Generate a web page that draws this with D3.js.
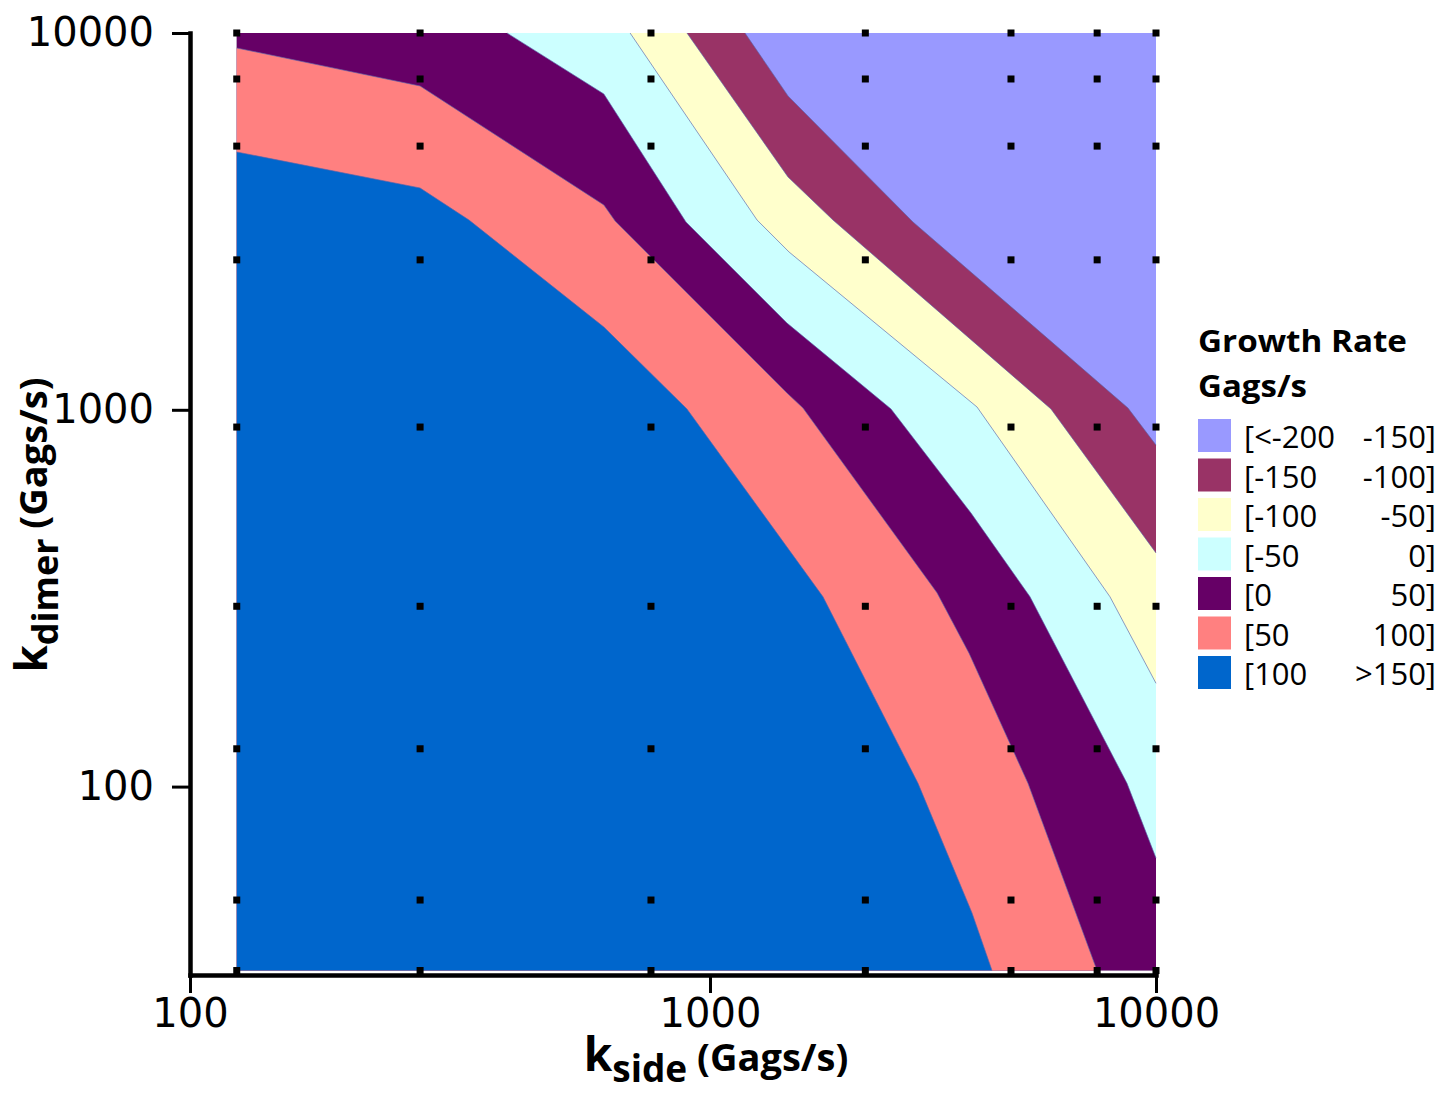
<!DOCTYPE html>
<html>
<head>
<meta charset="utf-8">
<script src="https://cdn.jsdelivr.net/npm/d3@7"></script>
<style>
  body { margin: 0; background: #fff; }
</style>
</head>
<body>
<div id="app"></div>
<script>
// sample grid (black markers)
const kSideGrid = [123, 277, 770, 2230, 4730, 7380, 10000];
const kDimerGrid = [10000, 7550, 5010, 2500, 900, 301, 126, 50, 32.5];

// legend
const bandColors = ["#9999FF", "#993366", "#FFFFCC", "#CCFFFF", "#660066", "#FF8080", "#0066CC"];
const bandLow = ["[<-200", "[-150", "[-100", "[-50", "[0", "[50", "[100"];
const bandHigh = ["-150]", "-100]", "-50]", "0]", "50]", "100]", ">150]"];

// contour lines [kside, kdimer], running from top/left edge to right/bottom edge
const contourM150 = [[1198, 10000], [1496, 6807], [2852, 3151], [8654, 1011], [10000, 806]];
const contourM100 = [[903, 10000], [1496, 4148], [1887, 3189], [5815, 1005], [10000, 417]];
const contourM50 = [[702, 10000], [1275, 3189], [1504, 2623], [3970, 1017], [7885, 319], [10000, 188]];
const contour0 = [[407, 10000], [625, 6890], [899, 3151], [1488, 1699], [2546, 1005], [3848, 532], [5218, 319], [8610, 102], [10000, 64.6]];
const contour50 = [[123, 9124], [277, 7234], [625, 3496], [657, 3170], [1488, 1108], [1616, 1011], [3228, 327], [3809, 226], [5164, 102], [7376, 32.5]];
const contour100 = [[123, 4833], [277, 3879], [344, 3189], [625, 1658], [903, 1005], [1792, 319], [2927, 102], [3868, 46.2], [4289, 32.5]];

const contours = [contourM150, contourM100, contourM50, contour0, contour50, contour100];

const xTicks = [100, 1000, 10000];
const yTicks = [100, 1000, 10000];

const chart = () => {
  const width = 1450;
  const height = 1093;

  const xMin = d3.min(kSideGrid), xMax = d3.max(kSideGrid);
  const yMin = d3.min(kDimerGrid), yMax = d3.max(kDimerGrid);

  const x = d3.scaleLog().domain([100, 1000, 10000]).range([190, 710, 1156]);
  const y = d3.scaleLog().domain([Math.pow(10, 1.5), 10000]).range([975, 33]);

  const svg = d3.create("svg").attr("width", width).attr("height", height);

  const line = d3.line().x((d) => x(d[0])).y((d) => y(d[1]));

  // area below/left of a contour, closed along the plot edges
  const regionBelow = (c) => {
    const pts = c.slice();
    const first = pts[0], last = pts[pts.length - 1];
    if (last[0] >= xMax && last[1] > yMin) pts.push([xMax, yMin]);
    pts.push([xMin, yMin]);
    if (first[1] >= yMax && first[0] > xMin) pts.push([xMin, yMax]);
    return pts;
  };

  svg.append("rect")
    .attr("x", x(xMin))
    .attr("y", y(yMax))
    .attr("width", x(xMax) - x(xMin))
    .attr("height", y(yMin) - y(yMax))
    .attr("fill", bandColors[0]);

  svg.append("g")
    .selectAll("path")
    .data(contours)
    .join("path")
    .attr("d", (c) => line(regionBelow(c)) + "Z")
    .attr("fill", (c, i) => bandColors[i + 1]);

  svg.append("g")
    .selectAll("path")
    .data(contours)
    .join("path")
    .attr("d", (c) => line(c))
    .attr("fill", "none")
    .attr("stroke", "#5a64aa")
    .attr("stroke-opacity", 0.65)
    .attr("stroke-width", 1);

  // markers
  const grid = kSideGrid.flatMap((a) => kDimerGrid.map((b) => [a, b]));
  svg.append("g")
    .selectAll("rect")
    .data(grid)
    .join("rect")
    .attr("x", (d) => x(d[0]) - 3.5)
    .attr("y", (d) => y(d[1]) - 3.5)
    .attr("width", 7)
    .attr("height", 7)
    .attr("fill", "#000");

  // axes
  const yAxis = svg.append("g")
    .attr("transform", `translate(${x(100)},0)`)
    .call(d3.axisLeft(y).tickValues(yTicks).tickFormat(d3.format("d"))
      .tickSize(18).tickSizeOuter(0).tickPadding(18));
  yAxis.select(".domain").attr("stroke-width", 4.5).attr("stroke-linecap", "square");
  yAxis.selectAll(".tick line").attr("stroke-width", 3);
  yAxis.selectAll(".tick text")
    .attr("font-family", "DejaVu Sans")
    .attr("font-size", 40)
    .attr("fill", "#000");

  const xAxis = svg.append("g")
    .attr("transform", `translate(0,${y(Math.pow(10, 1.5))})`)
    .call(d3.axisBottom(x).tickValues(xTicks).tickFormat(d3.format("d"))
      .tickSize(18).tickSizeOuter(0).tickPadding(6));
  xAxis.select(".domain").attr("stroke-width", 4.5).attr("stroke-linecap", "square");
  xAxis.selectAll(".tick line").attr("stroke-width", 3);
  xAxis.selectAll(".tick text")
    .attr("font-family", "DejaVu Sans")
    .attr("font-size", 40)
    .attr("fill", "#000");

  // axis titles
  const xTitle = svg.append("text")
    .attr("x", 716)
    .attr("y", 1071)
    .attr("text-anchor", "middle")
    .attr("font-family", "Open Sans")
    .attr("font-weight", "bold")
    .attr("fill", "#000");
  xTitle.append("tspan").attr("font-size", 46).text("k");
  xTitle.append("tspan").attr("font-size", 37).attr("dy", 11).text("side");
  xTitle.append("tspan").attr("font-size", 38).attr("dy", -11).text(" (Gags/s)");

  const yTitle = svg.append("text")
    .attr("transform", "translate(47,525) rotate(-90)")
    .attr("text-anchor", "middle")
    .attr("font-family", "Open Sans")
    .attr("font-weight", "bold")
    .attr("fill", "#000");
  yTitle.append("tspan").attr("font-size", 44).text("k");
  yTitle.append("tspan").attr("font-size", 36).attr("dy", 11).text("dimer");
  yTitle.append("tspan").attr("font-size", 38).attr("dy", -11).text(" (Gags/s)");

  // legend
  const legend = svg.append("g").attr("font-family", "Open Sans").attr("fill", "#000");
  legend.append("text").attr("x", 1198).attr("y", 352)
    .attr("font-size", 31).attr("font-weight", "bold")
    .attr("textLength", 209).attr("lengthAdjust", "spacingAndGlyphs")
    .text("Growth Rate");
  legend.append("text").attr("x", 1198).attr("y", 397)
    .attr("font-size", 31).attr("font-weight", "bold")
    .attr("textLength", 109).attr("lengthAdjust", "spacingAndGlyphs")
    .text("Gags/s");

  const rows = legend.selectAll("g.row")
    .data(bandColors)
    .join("g")
    .attr("class", "row")
    .attr("transform", (d, i) => `translate(0,${419 + i * 39.5})`);
  rows.append("rect")
    .attr("x", 1198).attr("y", 0)
    .attr("width", 33).attr("height", 33)
    .attr("fill", (d) => d);
  rows.append("text")
    .attr("x", 1244).attr("y", 29)
    .attr("font-size", 31)
    .text((d, i) => bandLow[i]);
  rows.append("text")
    .attr("x", 1436).attr("y", 29)
    .attr("font-size", 31)
    .attr("text-anchor", "end")
    .text((d, i) => bandHigh[i]);

  return svg.node();
};

d3.select("#app").append(chart);
</script>
</body>
</html>
